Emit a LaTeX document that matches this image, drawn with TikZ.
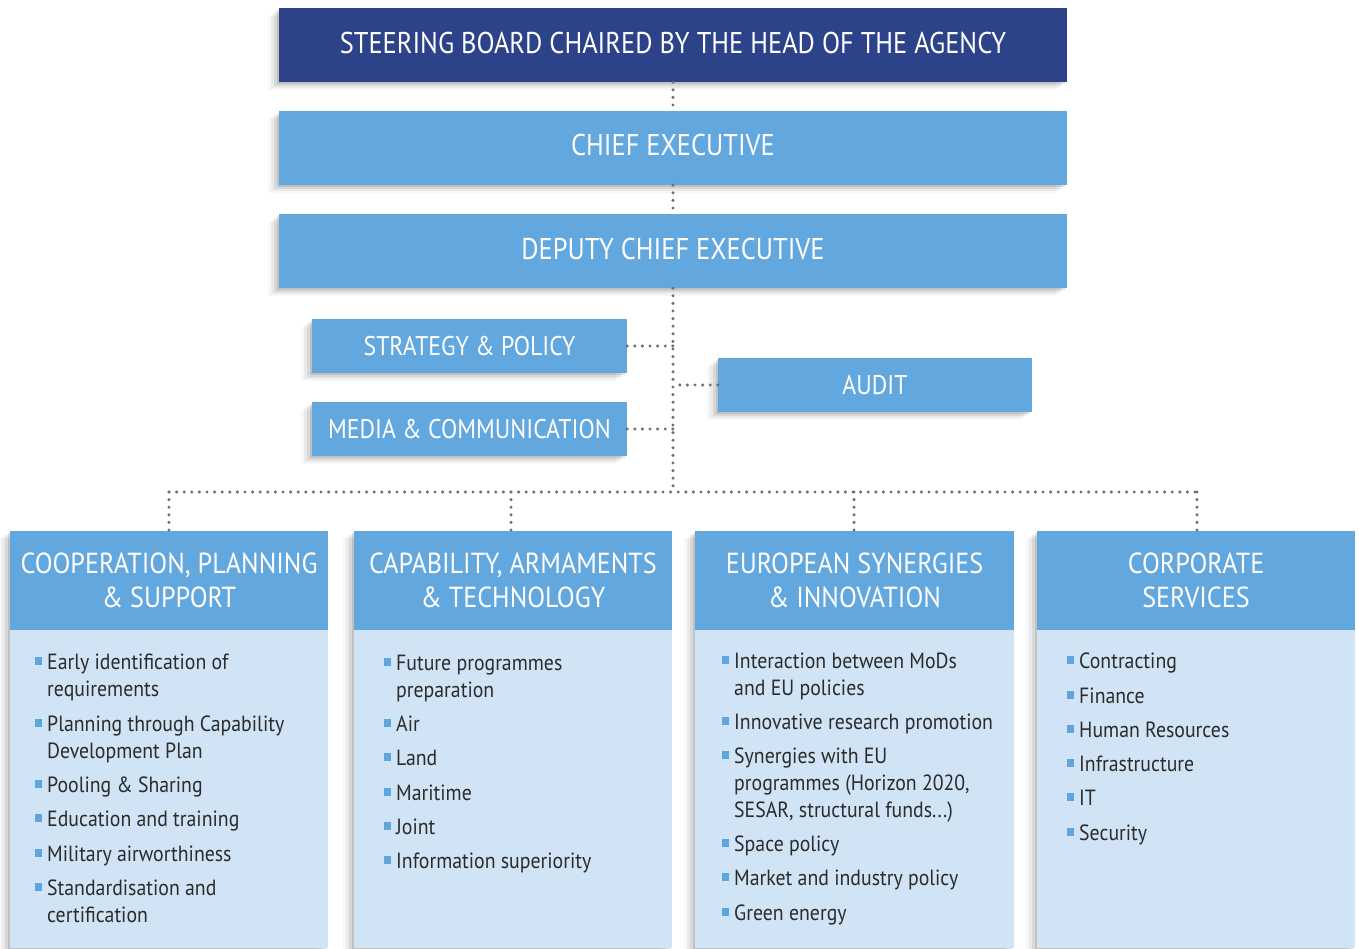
\documentclass[tikz,border=0pt]{standalone}
\usepackage{fontspec}
\setmainfont{PT Sans}
\newfontfamily\hfont[FakeStretch=0.88]{PT Sans}
\newfontfamily\cfont[FakeStretch=0.9]{PT Sans}
\newfontfamily\bfont[FakeStretch=0.9]{PT Sans}
\usetikzlibrary{shadows}
\definecolor{darkblue}{HTML}{2C4289}
\definecolor{midblue}{HTML}{62A7DE}
\definecolor{paleblue}{HTML}{D0E4F5}
\definecolor{bulc}{HTML}{5EA6DF}
\definecolor{txt}{HTML}{2B2B2B}
\definecolor{dotc}{HTML}{707070}
\newcommand{\bul}{\llap{\textcolor{bulc}{\rule[4.5pt]{7pt}{7.5pt}}\hspace{5pt}}}
\newcommand{\itemtxt}[1]{\parbox[t]{290pt}{\raggedright\bfont\fontsize{22}{27}\selectfont\leavevmode\color{txt}\bul #1}}
\tikzset{
  softshadow/.style={
    general shadow={shadow xshift=-2pt,shadow yshift=-2pt,fill=black,opacity=.11},
    general shadow={shadow xshift=-5pt,shadow yshift=-4pt,fill=black,opacity=.08},
    general shadow={shadow xshift=-8pt,shadow yshift=-6pt,fill=black,opacity=.05},
    general shadow={shadow xshift=-11pt,shadow yshift=-8pt,fill=black,opacity=.03}},
  box/.style={rectangle, fill=midblue, text=white, inner sep=0pt, softshadow},
  bigbox/.style={box, minimum width=788pt, minimum height=74pt, text depth=5pt, font=\hfont\fontsize{30}{34}\selectfont},
  smallbox/.style={box, minimum width=315pt, minimum height=54pt, font=\hfont\fontsize{27}{30}\selectfont},
  colhead/.style={box, minimum width=318pt, minimum height=99pt, align=center, font=\cfont\fontsize{29}{34}\selectfont},
  colbody/.style={rectangle, fill=paleblue, inner sep=0pt, minimum width=318pt, minimum height=318pt, softshadow},
  itemnode/.style={anchor=base west, inner sep=0pt, yshift=2pt},
  dotline/.style={draw=dotc, line width=3.4pt, line cap=round, dash pattern=on 0pt off 7.6pt}
}
\begin{document}
\begin{tikzpicture}[x=1pt,y=-1pt]
\useasboundingbox (0,0) rectangle (1359,948);
% top hierarchy
\node[bigbox, fill=darkblue] (sb) at (673,45) {STEERING BOARD CHAIRED BY THE HEAD OF THE AGENCY};
\node[bigbox, text depth=6pt] (ce) at (673,148) {CHIEF EXECUTIVE};
\node[bigbox] (dce) at (673,251) {DEPUTY CHIEF EXECUTIVE};
\node[smallbox] (sp) at (469.5,346) {STRATEGY \& POLICY};
\node[smallbox] (mc) at (469.5,429) {MEDIA \& COMMUNICATION};
\node[smallbox, minimum width=314pt] (au) at (875,385) {AUDIT};
% columns
\node[colhead] (h1) at (169,580.5) {COOPERATION, PLANNING\\\& SUPPORT};
\node[colbody, anchor=north] (b1) at (h1.south) {};
\node[colhead] (h2) at (513,580.5) {CAPABILITY, ARMAMENTS\\\& TECHNOLOGY};
\node[colbody, anchor=north] (b2) at (h2.south) {};
\node[colhead, minimum width=319pt] (h3) at (854.5,580.5) {EUROPEAN SYNERGIES\\\& INNOVATION};
\node[colbody, minimum width=319pt, anchor=north] (b3) at (h3.south) {};
\node[colhead] (h4) at (1196,580.5) {CORPORATE\\SERVICES};
\node[colbody, anchor=north] (b4) at (h4.south) {};
% connectors
\coordinate (hub) at (673,492);
\draw[dotline] (sb.south) -- (ce.north);
\draw[dotline] (ce.south) -- (dce.north);
\draw[dotline] (dce.south) -- (hub);
\draw[dotline] (sp.east) -- (sp.east -| hub);
\draw[dotline] (mc.east) -- (mc.east -| hub);
\draw[dotline] (au.west) -- (au.west -| hub);
\coordinate (busL) at (169,492);
\coordinate (busR) at (1197,492);
\draw[dotline] (busL) -- (busR);
\draw[dotline] (busL) -- (busL |- h1.north);
\draw[dotline] (511,492) -- (511,531);
\draw[dotline] (854,492) -- (854,531);
\draw[dotline] (busR) -- (busR |- h4.north);
% column 1 items
\node[itemnode] (i11) at (47,671) {\itemtxt{Early identification of\\requirements}};
\node[itemnode] (i12) at (47,733) {\itemtxt{Planning through Capability\\Development Plan}};
\node[itemnode] (i13) at (47,794) {\itemtxt{Pooling \& Sharing}};
\node[itemnode] (i14) at (47,828) {\itemtxt{Education and training}};
\node[itemnode] (i15) at (47,863) {\itemtxt{Military airworthiness}};
\node[itemnode] (i16) at (47,897) {\itemtxt{Standardisation and\\certification}};
% column 2 items
\node[itemnode] (i21) at (396,672) {\itemtxt{Future programmes\\preparation}};
\node[itemnode] (i22) at (396,733) {\itemtxt{Air}};
\node[itemnode] (i23) at (396,767) {\itemtxt{Land}};
\node[itemnode] (i24) at (396,802) {\itemtxt{Maritime}};
\node[itemnode] (i25) at (396,836) {\itemtxt{Joint}};
\node[itemnode] (i26) at (396,870) {\itemtxt{Information superiority}};
% column 3 items
\node[itemnode] (i31) at (734,670) {\itemtxt{Interaction between MoDs\\and EU policies}};
\node[itemnode] (i32) at (734,731) {\itemtxt{Innovative research promotion}};
\node[itemnode] (i33) at (734,765) {\itemtxt{Synergies with EU\\programmes (Horizon 2020,\\SESAR, structural funds...)}};
\node[itemnode] (i34) at (734,853) {\itemtxt{Space policy}};
\node[itemnode] (i35) at (734,887) {\itemtxt{Market and industry policy}};
\node[itemnode] (i36) at (734,922) {\itemtxt{Green energy}};
% column 4 items
\node[itemnode] (i41) at (1079,670) {\itemtxt{Contracting}};
\node[itemnode] (i42) at (1079,705) {\itemtxt{Finance}};
\node[itemnode] (i43) at (1079,739) {\itemtxt{Human Resources}};
\node[itemnode] (i44) at (1079,773) {\itemtxt{Infrastructure}};
\node[itemnode] (i45) at (1079,807) {\itemtxt{IT}};
\node[itemnode] (i46) at (1079,842) {\itemtxt{Security}};
\end{tikzpicture}
\end{document}
